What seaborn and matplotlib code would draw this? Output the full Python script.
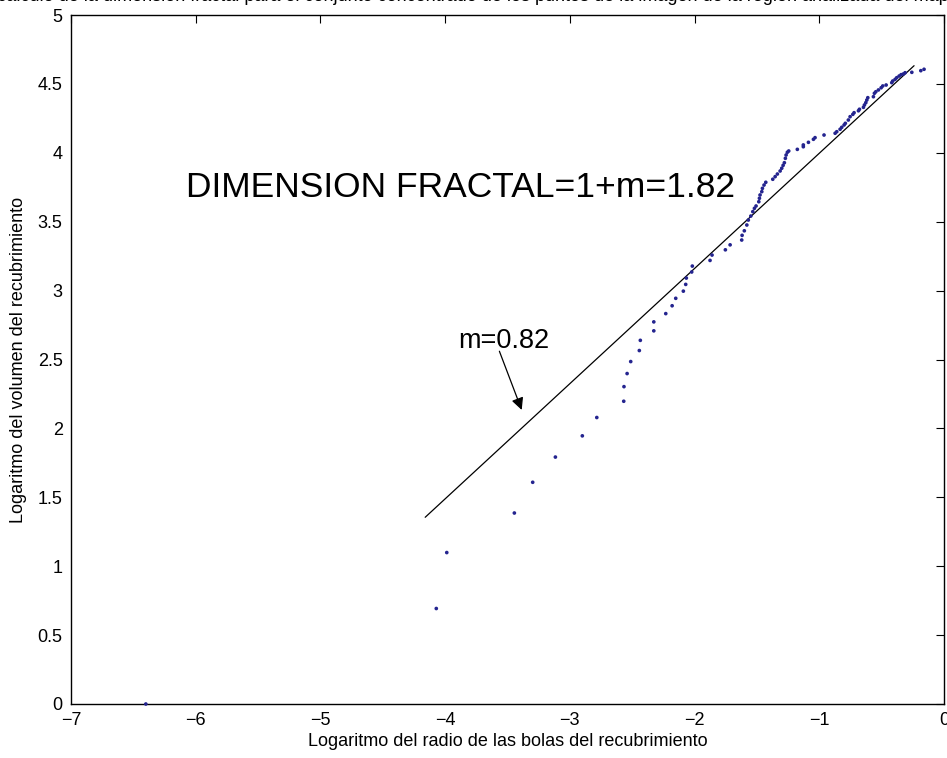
import matplotlib
matplotlib.use("Agg")
import matplotlib.pyplot as plt
import seaborn as sns
import pandas as pd

sns.set_style("white")
plt.rcParams['font.family'] = ['Liberation Sans', 'DejaVu Sans']
plt.rcParams['text.color'] = 'black'
plt.rcParams['axes.labelcolor'] = 'black'

# Data
log_radio = [-6.400, -4.071, -3.987, -3.445, -3.298, -3.116, -2.900, -2.784, -2.568, -2.566,
             -2.541, -2.512, -2.443, -2.435, -2.327, -2.327, -2.231, -2.180, -2.151, -2.090,
             -2.071, -2.066, -2.023, -2.018, -1.876, -1.860, -1.753, -1.715, -1.622, -1.619,
             -1.601, -1.581, -1.569, -1.549, -1.533, -1.520, -1.507, -1.485, -1.480, -1.475,
             -1.461, -1.456, -1.443, -1.429, -1.373, -1.354, -1.336, -1.314, -1.301, -1.290,
             -1.280, -1.272, -1.266, -1.256, -1.245, -1.176, -1.128, -1.128, -1.087, -1.047,
             -1.034, -0.962, -0.873, -0.860, -0.833, -0.820, -0.801, -0.791, -0.767, -0.753,
             -0.731, -0.721, -0.686, -0.678, -0.646, -0.638, -0.627, -0.619, -0.611, -0.566,
             -0.558, -0.547, -0.526, -0.504, -0.491, -0.464, -0.419, -0.411, -0.392, -0.379,
             -0.360, -0.344, -0.326, -0.312, -0.258, -0.186, -0.160]
log_volumen = [0.000, 0.693, 1.099, 1.386, 1.609, 1.792, 1.946, 2.079, 2.197, 2.303,
               2.398, 2.485, 2.565, 2.639, 2.708, 2.773, 2.833, 2.890, 2.944, 2.996,
               3.045, 3.091, 3.135, 3.178, 3.219, 3.258, 3.296, 3.332, 3.367, 3.401,
               3.434, 3.476, 3.512, 3.541, 3.573, 3.597, 3.614, 3.645, 3.670, 3.694,
               3.718, 3.742, 3.766, 3.786, 3.808, 3.827, 3.846, 3.868, 3.888, 3.909,
               3.928, 3.960, 3.984, 4.004, 4.013, 4.025, 4.044, 4.057, 4.076, 4.098,
               4.110, 4.129, 4.142, 4.153, 4.171, 4.185, 4.202, 4.214, 4.238, 4.262,
               4.279, 4.291, 4.305, 4.316, 4.330, 4.347, 4.364, 4.383, 4.400, 4.407,
               4.432, 4.443, 4.456, 4.472, 4.485, 4.492, 4.509, 4.521, 4.533, 4.545,
               4.557, 4.567, 4.572, 4.581, 4.584, 4.596, 4.606]

ajuste_x = [-4.16, -0.24]
ajuste_y = [1.355, 4.632]

xticks = [-7, -6, -5, -4, -3, -2, -1, 0]
yticks = [0, 0.5, 1, 1.5, 2, 2.5, 3, 3.5, 4, 4.5, 5]
ytick_labels = ['0', '0.5', '1', '1.5', '2', '2.5', '3', '3.5', '4', '4.5', '5']
xtick_labels = ['\u22127', '\u22126', '\u22125', '\u22124', '\u22123', '\u22122', '\u22121', '0']

df = pd.DataFrame({'x': log_radio, 'y': log_volumen})
fit = pd.DataFrame({'x': ajuste_x, 'y': ajuste_y})

fig = plt.figure(figsize=(9.47, 7.58), dpi=100)
ax = fig.add_axes([71/947, 54/758, (944-71)/947, (704-15)/758])

sns.lineplot(data=fit, x='x', y='y', ax=ax, color='black', linewidth=0.9)
sns.scatterplot(data=df, x='x', y='y', ax=ax, color='#24248f', s=7, marker='o',
                edgecolor='none', zorder=3, clip_on=False)

ax.set_xlim(-7, 0)
ax.set_ylim(0, 5)
ax.set_xticks(xticks)
ax.set_xticklabels(xtick_labels)
ax.set_yticks(yticks)
ax.set_yticklabels(ytick_labels)
ax.tick_params(direction='in', length=6, width=0.8, top=True, right=True,
               labelsize=13, pad=6, colors='black')
for s in ax.spines.values():
    s.set_visible(True)
    s.set_color('black')
    s.set_linewidth(1.0)

ax.set_xlabel('Logaritmo del radio de las bolas del recubrimiento', fontsize=13, labelpad=3)
ax.set_ylabel('Logaritmo del volumen del recubrimiento', fontsize=13, labelpad=8)

ax.text(-6.078, 3.679, 'DIMENSION FRACTAL=1+m=1.82', fontsize=25.5, ha='left',
        va='baseline', color='black')
ax.text(-3.897, 2.583, 'm=0.82', fontsize=19.5, ha='left', va='baseline', color='black')
ax.annotate('', xy=(-3.386, 2.134), xytext=(-3.565, 2.56),
            arrowprops=dict(arrowstyle='-|>', color='black', lw=0.9,
                            mutation_scale=18, shrinkA=0, shrinkB=0))

fig.text(0.5, 1 - 1/758, 'Gráfica del cálculo de la dimensión fractal para el conjunto concentrado de los puntos de la imagen de la región analizada del mapa geológico',
         ha='center', va='baseline', fontsize=13, color='black')

fig.savefig('out.png', dpi=100)
